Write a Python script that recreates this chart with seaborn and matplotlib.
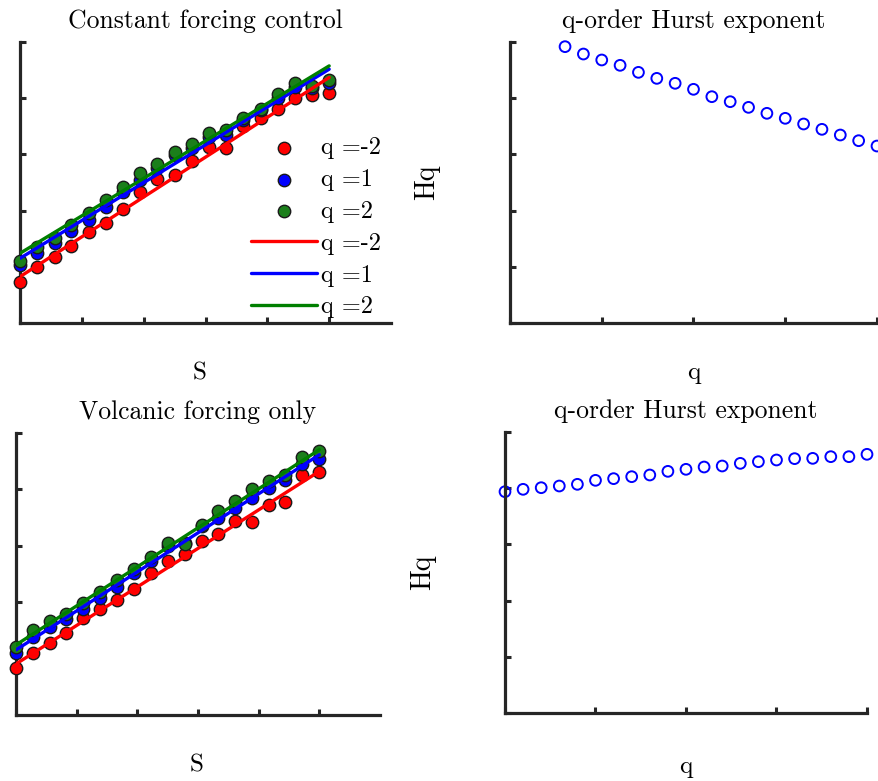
import numpy as np
import pandas as pd
import matplotlib
matplotlib.use("Agg")
import matplotlib.pyplot as plt
import seaborn as sns

# ---------------- data ----------------
s_scale = [0.00, 0.28, 0.56, 0.83, 1.11, 1.39, 1.67, 1.94, 2.22, 2.50,
           2.78, 3.06, 3.33, 3.61, 3.89, 4.17, 4.44, 4.72, 5.00]

ctrl_qm2 = [0.735, 1.002, 1.168, 1.376, 1.613, 1.773, 2.028, 2.337, 2.556, 2.633,
            2.883, 3.138, 3.108, 3.505, 3.642, 3.802, 3.998, 4.057, 4.098]
ctrl_q1 = [1.032, 1.251, 1.418, 1.643, 1.833, 2.070, 2.337, 2.544, 2.752, 2.989,
           3.108, 3.316, 3.345, 3.612, 3.790, 3.998, 4.205, 4.176, 4.265]
ctrl_q2 = [1.103, 1.358, 1.507, 1.744, 1.951, 2.189, 2.426, 2.663, 2.823, 3.049,
           3.185, 3.387, 3.434, 3.642, 3.802, 4.069, 4.265, 4.217, 4.324]
ctrl_fit_intercept = [0.824, 1.151, 1.240]
ctrl_fit_slope = [0.709, 0.673, 0.667]

volc_qm2 = [0.828, 1.095, 1.284, 1.450, 1.716, 1.882, 2.041, 2.237, 2.515, 2.722,
            2.858, 3.077, 3.213, 3.444, 3.414, 3.728, 3.769, 4.260, 4.302]
volc_q1 = [1.095, 1.379, 1.556, 1.698, 1.876, 2.071, 2.278, 2.515, 2.722, 2.988,
           3.047, 3.343, 3.491, 3.669, 3.846, 4.024, 4.160, 4.456, 4.544]
volc_q2 = [1.201, 1.509, 1.675, 1.793, 1.994, 2.189, 2.396, 2.592, 2.799, 3.047,
           3.036, 3.373, 3.609, 3.799, 4.006, 4.142, 4.260, 4.574, 4.675]
volc_fit_intercept = [0.905, 1.154, 1.243]
volc_fit_slope = [0.683, 0.692, 0.692]

q_ctrl = [0.6, 0.8, 1.0, 1.2, 1.4, 1.6, 1.8, 2.0, 2.2, 2.4, 2.6, 2.8, 3.0,
          3.2, 3.4, 3.6, 3.8, 4.0]
hq_ctrl = [4.917, 4.786, 4.680, 4.585, 4.460, 4.353, 4.265, 4.158, 4.027,
           3.938, 3.837, 3.731, 3.642, 3.541, 3.446, 3.345, 3.244, 3.149]

q_volc = [0.0, 0.2, 0.4, 0.6, 0.8, 1.0, 1.2, 1.4, 1.6, 1.8, 2.0, 2.2, 2.4,
          2.6, 2.8, 3.0, 3.2, 3.4, 3.6, 3.8, 4.0]
hq_volc = [3.938, 3.980, 4.009, 4.039, 4.069, 4.140, 4.170, 4.205, 4.235,
           4.300, 4.336, 4.377, 4.395, 4.442, 4.472, 4.502, 4.526, 4.531,
           4.561, 4.561, 4.603]

q_labels = ["q =-2", "q =1", "q =2"]
series_colors = ["#ff0000", "#0000ff", "#1b7f1b"]
line_colors = ["#ff0000", "#0000ff", "#007f00"]

# ---------------- style ----------------
sns.set_style("white")
plt.rcParams["font.family"] = ["cmr10", "DejaVu Serif"]
plt.rcParams["axes.formatter.use_mathtext"] = True
plt.rcParams["axes.unicode_minus"] = False
plt.rcParams["text.color"] = "black"
plt.rcParams["axes.labelcolor"] = "black"

W, H = 879, 781
fig = plt.figure(figsize=(W / 100, H / 100), dpi=100)

def px_axes(left, top, right, bottom):
    return fig.add_axes([left / W, 1 - bottom / H, (right - left) / W, (bottom - top) / H])

ax_tl = px_axes(20, 42, 391, 323)
ax_tr = px_axes(510, 42, 877, 323)
ax_bl = px_axes(16, 433, 380, 715)
ax_br = px_axes(505, 432, 867, 713)

FS_TITLE = 18.5
FS_XLAB = 18
FS_YLAB = 20
FS_LEG = 17.5
SPINE = "#262626"

def style_axes(ax, xticks, yticks, xlim, ylim):
    ax.set_xlim(*xlim)
    ax.set_ylim(*ylim)
    ax.set_xticks(xticks)
    ax.set_yticks(yticks)
    ax.set_xticklabels([])
    ax.set_yticklabels([])
    for side in ["top", "right"]:
        ax.spines[side].set_visible(False)
    for side in ["left", "bottom"]:
        ax.spines[side].set_linewidth(2.3)
        ax.spines[side].set_color(SPINE)
    ax.tick_params(bottom=True, left=True, top=False, right=False,
                   direction="in", length=4, width=2.2, color=SPINE)
    ax.grid(False)

def scaling_panel(ax, series, intercepts, slopes, title, legend):
    s = np.asarray(s_scale)
    for ys, c, lab in zip(series, series_colors, q_labels):
        sns.scatterplot(x=s, y=ys, color=c, s=80, edgecolor="#1a1a1a",
                        linewidth=1.0, label=lab if legend else None, ax=ax,
                        zorder=3, clip_on=False)
    for b, m, c, lab in zip(intercepts, slopes, line_colors, q_labels):
        sns.lineplot(x=s, y=b + m * s, color=c, linewidth=2.4,
                     label=lab if legend else None, ax=ax, zorder=4)
    style_axes(ax, [0, 1, 2, 3, 4, 5], [2, 3, 4, 5], (0, 6), (0, 5))
    ax.set_title(title, fontsize=FS_TITLE, pad=10)
    ax.set_xlabel("S", fontsize=FS_XLAB)
    ax.set_ylabel("")

def hurst_panel(ax, q, hq):
    sns.scatterplot(x=q, y=hq, marker="o", s=60, facecolors="none",
                    edgecolor="#0000ff", linewidth=1.4, ax=ax, clip_on=False)
    style_axes(ax, [0, 1, 2, 3, 4], [0, 1, 2, 3, 4, 5], (0, 4), (0, 5))
    ax.set_title("q-order Hurst exponent", fontsize=FS_TITLE, pad=10)
    ax.set_xlabel("q", fontsize=FS_XLAB)
    ax.set_ylabel("Hq", fontsize=FS_YLAB)

scaling_panel(ax_tl, [ctrl_qm2, ctrl_q1, ctrl_q2], ctrl_fit_intercept,
              ctrl_fit_slope, "Constant forcing control", True)
scaling_panel(ax_bl, [volc_qm2, volc_q1, volc_q2], volc_fit_intercept,
              volc_fit_slope, "Volcanic forcing only", False)
hurst_panel(ax_tr, q_ctrl, hq_ctrl)
hurst_panel(ax_br, q_volc, hq_volc)

for ax in (ax_bl, ax_tr, ax_br):
    leg = ax.get_legend()
    if leg is not None:
        leg.remove()

ax_tl.legend(loc="upper left", bbox_to_anchor=((251 - 20) / 371, (323 - 137) / 281),
             frameon=False, fontsize=FS_LEG, handlelength=2.7, handletextpad=0.2,
             borderpad=0, borderaxespad=0, labelspacing=0.40)

# label positions
ax_tl.xaxis.set_label_coords((200 - 20) / 371, (323 - 362) / 281)
ax_bl.xaxis.set_label_coords((197 - 16) / 364, (715 - 754) / 282)
ax_tr.xaxis.set_label_coords(0.5, (323 - 362) / 281)
ax_br.xaxis.set_label_coords(0.5, (713 - 756) / 281)
ax_tr.yaxis.set_label_coords((440 - 510) / 367, 0.5)
ax_br.yaxis.set_label_coords((436 - 505) / 362, 0.5)

fig.savefig("out.png", dpi=100)
